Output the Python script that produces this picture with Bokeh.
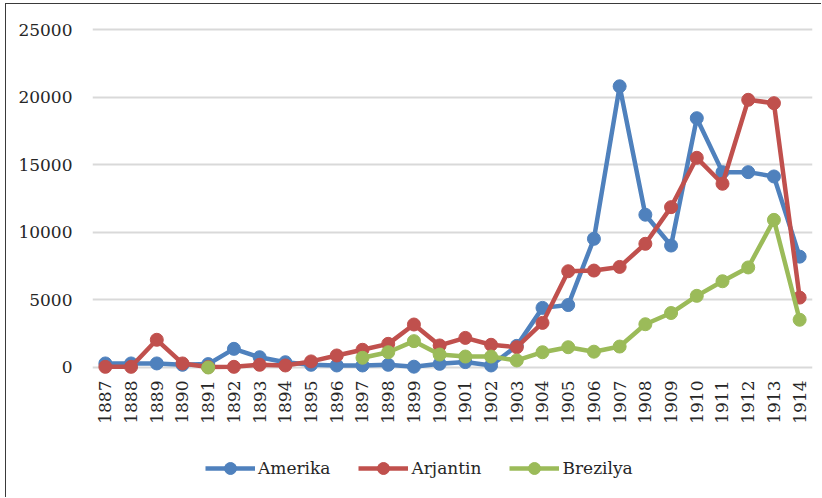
import math
import numpy as np
from bokeh.plotting import figure
from bokeh.models import ColumnDataSource, Range1d, FixedTicker, NumeralTickFormatter, Legend, LegendItem
from bokeh.embed import file_html
from bokeh.resources import INLINE

years = [str(y) for y in range(1887, 1915)]
nan = float("nan")
amerika = [300, 300, 300, 200, 250, 1380, 760, 390, 200, 150, 150, 200, 60, 270,
           400, 150, 1600, 4410, 4620, 9520, 20800, 11300, 9020, 18440, 14450, 14450, 14130, 8200]
arjantin = [50, 50, 2050, 300, 30, 50, 200, 150, 450, 890, 1310, 1750, 3180, 1630,
            2190, 1680, 1500, 3300, 7120, 7170, 7440, 9150, 11860, 15510, 13590, 19800, 19550, 5170]
brezilya = [nan, nan, nan, nan, 0, nan, nan, nan, nan, nan, 720, 1130, 1950, 960,
            810, 810, 520, 1130, 1500, 1170, 1550, 3200, 4030, 5300, 6380, 7400, 10920, 3530]
series = [("Amerika", amerika, "#4F81BD"), ("Arjantin", arjantin, "#C0504D"), ("Brezilya", brezilya, "#9BBB59")]
y_ticks = [0, 5000, 10000, 15000, 20000, 25000]

FONT = "DejaVu Serif"
TXT = "#262626"

p = figure(x_range=years, y_range=Range1d(-9098, 25666), width=816, height=494,
           output_backend="svg", toolbar_location=None,
           min_border_left=86, min_border_right=10, min_border_top=16, min_border_bottom=8,
           margin=(3, 0, 0, 5),
           styles={"border-left": "1px solid #3a3a3a", "border-top": "1px solid #3a3a3a"})
p.outline_line_color = None
p.background_fill_color = "white"
p.border_fill_color = "white"

p.xgrid.grid_line_color = None
p.ygrid.grid_line_color = "#D9D9D9"
p.ygrid.grid_line_width = 2
p.yaxis.ticker = FixedTicker(ticks=y_ticks)
p.yaxis.formatter = NumeralTickFormatter(format="0")
for ax in (p.xaxis, p.yaxis):
    ax.axis_line_color = None
    ax.major_tick_line_color = None
    ax.minor_tick_line_color = None
    ax.major_tick_out = 0
    ax.major_tick_in = 0
    ax.major_label_text_font = FONT
    ax.major_label_text_font_size = "17px"
    ax.major_label_text_color = TXT
p.yaxis.major_label_standoff = 20
p.xaxis.major_label_standoff = 13
p.xaxis.major_label_orientation = math.pi / 2
p.xaxis.fixed_location = 0

items = []
for name, vals, col in series:
    src = ColumnDataSource(dict(x=years, y=np.array(vals, dtype=float)))
    lr = p.line("x", "y", source=src, line_color=col, line_width=4.5, line_join="round")
    sr = p.scatter("x", "y", source=src, size=13, fill_color=col, line_color=col, marker="circle")
    items.append(LegendItem(label=name, renderers=[lr, sr]))

legend = Legend(items=items, orientation="horizontal", location=(113, 7),
                label_text_font=FONT, label_text_font_size="17px", label_text_color=TXT,
                glyph_width=50, glyph_height=30, label_standoff=3, spacing=28,
                padding=5, margin=0, border_line_color=None, background_fill_alpha=0)
p.add_layout(legend, "center")

open("out.html", "w").write(file_html(p, INLINE))
